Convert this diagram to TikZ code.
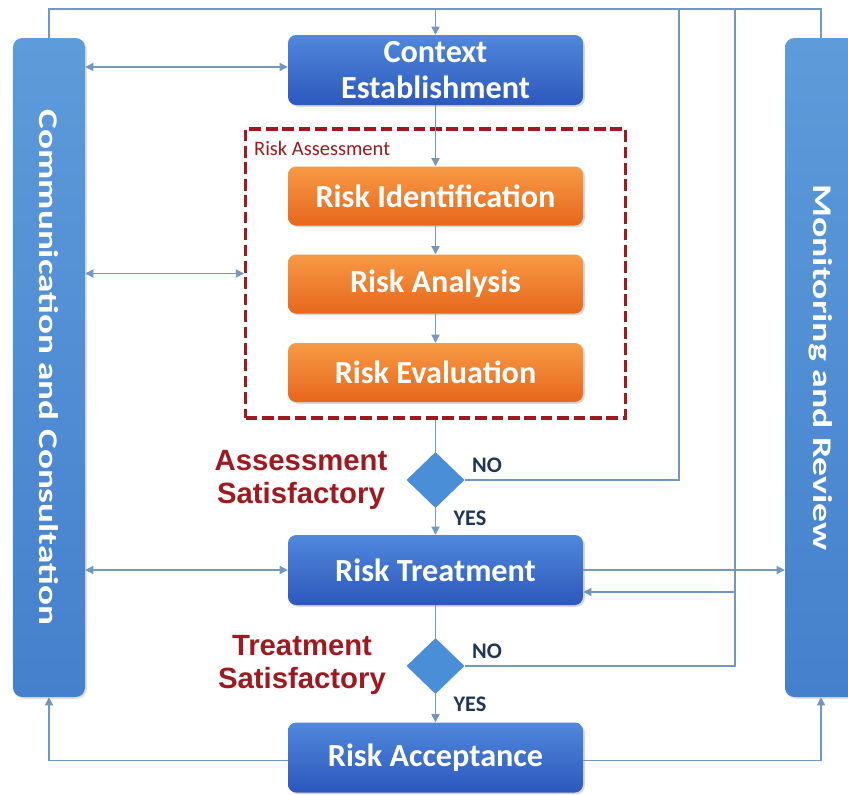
\documentclass[tikz,border=0pt]{standalone}
\usepackage{fontspec}
\setmainfont{Carlito}
\newfontfamily\arialfont{Liberation Sans}
\usetikzlibrary{shapes.geometric,arrows.meta,shadows}

\definecolor{linecol}{HTML}{7397BF}
\definecolor{bluetop}{HTML}{4F88DB}
\definecolor{bluebot}{HTML}{2C58BD}
\definecolor{bartop}{HTML}{5D9BDA}
\definecolor{barbot}{HTML}{4580CD}
\definecolor{orangetop}{HTML}{F89A45}
\definecolor{orangebot}{HTML}{E6661C}
\definecolor{diacol}{HTML}{4A8ED8}
\definecolor{darkred}{HTML}{9E1A20}
\definecolor{navy}{HTML}{1F3656}

\tikzset{
  conn/.style={draw=linecol, line width=1.1pt},
  arr/.style={conn, -{Triangle[length=7pt,width=7pt]}},
  darr/.style={conn, {Triangle[length=7pt,width=7pt]}-{Triangle[length=7pt,width=7pt]}},
  bluebox/.style={rounded corners=7pt, top color=bluetop, bottom color=bluebot,
    text=white, font=\bfseries\fontsize{27.5}{30}\selectfont, align=center,
    minimum width=88.5mm, minimum height=21mm,
    drop shadow={opacity=0.3, shadow xshift=1.5pt, shadow yshift=-1.5pt}},
  orangebox/.style={bluebox, top color=orangetop, bottom color=orangebot, minimum height=17.7mm},
  sidebar/.style={rounded corners=8pt, top color=bartop, bottom color=barbot,
    minimum width=21.6mm, minimum height=197.7mm,
    drop shadow={opacity=0.25, shadow xshift=1.5pt, shadow yshift=-1.5pt}},
  bartext/.style={rotate=-90, text=white, font=\bfseries\fontsize{23}{26}\selectfont},
  decision/.style={diamond, fill=diacol, minimum width=17.4mm, minimum height=16.8mm, inner sep=0pt},
  question/.style={text=darkred, font=\arialfont\bfseries\fontsize{25}{28}\selectfont, align=center},
  answer/.style={text=navy, font=\bfseries\fontsize{19}{22}\selectfont}
}

\begin{document}
\begin{tikzpicture}[x=0.3mm,y=-0.3mm]
  \clip (0,0) rectangle (848,794);
  \fill[white] (0,0) rectangle (848,794);

  % side bars
  \node[sidebar] (comm) at (49,367.5) {};
  \node[bartext] (commtxt) at (comm.center) {\scalebox{1.38}[1]{Communication and Consultation}};
  \node[sidebar] (mon) at (821,367.5) {};
  \node[bartext] (montxt) at (mon.center) {\scalebox{1.4}[1]{Monitoring and Review}};

  % main steps
  \node[bluebox] (ctx) at (435.5,70) {Context\\Establishment};
  \node[draw=darkred, line width=2.6pt, dash pattern=on 10pt off 4pt,
        minimum width=114mm, minimum height=86.7mm] (assess) at (435.5,273.5) {};
  \node[anchor=west, text=darkred, font=\fontsize{17.5}{19}\selectfont] (assesslbl) at (250,148) {Risk Assessment};
  \node[orangebox] (ident) at (435.5,196) {Risk Identification};
  \node[orangebox] (anal) at (435.5,284) {Risk Analysis};
  \node[orangebox] (eval) at (435.5,372.5) {Risk Evaluation};
  \node[decision] (d1) at (435.5,480) {};
  \node[bluebox] (treat) at (435.5,570) {Risk Treatment};
  \node[decision] (d2) at (435.5,666) {};
  \node[bluebox] (accept) at (435.5,757.5) {Risk Acceptance};

  \node[question] (q1) at (301,480) {Assessment\\Satisfactory};
  \node[question] (q2) at (302,665) {Treatment\\Satisfactory};
  \node[answer] (no1) at (487,465) {NO};
  \node[answer] (yes1) at (470,518) {YES};
  \node[answer] (no2) at (487,651) {NO};
  \node[answer] (yes2) at (470,704) {YES};

  \coordinate (top) at (435.5,9);
  \coordinate (loopa) at (679,9);
  \coordinate (loopb) at (735,9);

  % connectors
  \draw[conn] (comm.north) -- (comm.north |- top) -- (mon.north |- top) -- (mon.north);
  \draw[arr] (top) -- (ctx);
  \draw[arr] (ctx) -- (ident);
  \draw[arr] (ident) -- (anal);
  \draw[arr] (anal) -- (eval);
  \draw[conn] (assess.south) -- (d1.north);
  \draw[arr] (d1) -- (treat);
  \draw[conn] (treat) -- (d2);
  \draw[arr] (d2) -- (accept);

  \draw[conn] (d1.east) -- (d1.east -| loopa) -- (loopa);
  \draw[conn] (d2.east) -- (d2.east -| loopb) -- (loopb);
  \draw[arr] ([yshift=-6.6mm]treat.east -| loopb) -- ([yshift=-6.6mm]treat.east);

  \draw[darr] ([yshift=0.9mm]ctx.west -| comm.east) -- ([yshift=0.9mm]ctx.west);
  \draw[darr] (assess.west -| comm.east) -- (assess.west);
  \draw[darr] (treat.west -| comm.east) -- (treat.west);
  \draw[arr] (treat.east) -- (treat.east -| mon.west);
  \draw[arr] ([yshift=-0.8mm]accept.west) -| (comm.south);
  \draw[arr] ([yshift=-0.8mm]accept.east) -| (mon.south);
\end{tikzpicture}
\end{document}
